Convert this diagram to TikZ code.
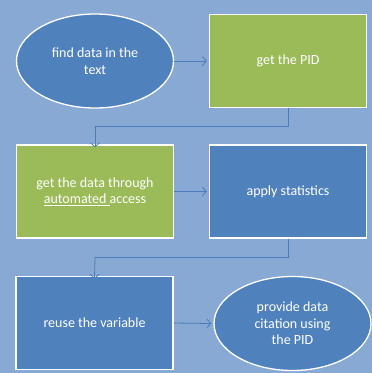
\documentclass[tikz,border=0pt]{standalone}
\usepackage{fontspec}
\setmainfont{Carlito}
\usetikzlibrary{shapes.geometric,arrows.meta}
\definecolor{bg}{HTML}{88A9D4}
\definecolor{blu}{HTML}{4F81BD}
\definecolor{grn}{HTML}{9BBB59}
\definecolor{lnk}{HTML}{4A7EBB}
\tikzset{
  base/.style={draw=white, line width=1.3pt, text=white, align=center, font=\fontsize{14}{16.5}\selectfont, inner sep=0pt},
  bluebox/.style={base, rectangle, fill=blu, minimum width=157pt, minimum height=93pt},
  greenbox/.style={base, rectangle, fill=grn, minimum width=157pt, minimum height=93pt},
  oval/.style={base, ellipse, fill=blu, minimum width=157pt, minimum height=94pt},
  link/.style={draw=lnk, line width=0.8pt, -{Straight Barb[length=4pt,width=9pt]}}
}
\begin{document}
\begin{tikzpicture}[x=1pt,y=-1pt]
\fill[bg] (0,0) rectangle (372,373);
\useasboundingbox (0,0) rectangle (372,373);
\node[oval] (find) at (95,61) {find data in the\\text};
\node[greenbox] (pid) at (288,61) {get the PID};
\node[greenbox] (get) at (95,191.5) {get the data through\\\underline{automated\ }access};
\node[bluebox] (stat) at (288,191.5) {apply statistics};
\node[bluebox] (reuse) at (94.5,323) {reuse the variable};
\node[oval] (cite) at (292.5,323.5) {provide data\\citation using\\the PID};
\coordinate (c1) at (288,126);
\coordinate (c2) at (95,126);
\coordinate (c3) at (288,257);
\coordinate (c4) at (95,257);
\draw[link] (find.east) -- ([xshift=-2pt]pid.west);
\draw[link, -] (pid.south) -- (c1) -- (c2);
\draw[link] (c2) -- ([yshift=-3pt]get.north);
\draw[link] (get.east) -- ([xshift=-2pt]stat.west);
\draw[link, -] (stat.south) -- (c3) -- (c4);
\draw[link] (c4) -- ([yshift=-3pt]reuse.north);
\draw[link] (reuse.east) -- ([xshift=-2pt]cite.west);
\end{tikzpicture}
\end{document}
